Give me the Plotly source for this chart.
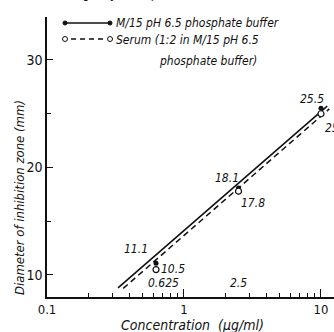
import math
import plotly.graph_objects as go

# ---- data ----
conc = [0.625, 2.5, 10]                 # µg/ml
buffer_mm = [11.1, 18.1, 25.5]          # M/15 pH 6.5 phosphate buffer
serum_mm = [10.5, 17.8, 25.0]           # Serum (1:2 in M/15 pH 6.5 phosphate buffer)
buffer_fit_x = [0.33, 11.1]
buffer_fit_y = [8.8, 25.7]
serum_fit_x = [0.36, 11.5]
serum_fit_y = [8.75, 25.45]
conc_labels = ["0.625", "2.5"]
x_ticks = [0.1, 1, 10]
x_ticktext = ["0.1", "1", "10"]
y_ticks = [10, 20, 30]

FONT = "Liberation Sans Narrow, DejaVu Sans Condensed, Arial Narrow, sans-serif"
BLACK = "#111111"

fig = go.Figure()
fig.add_trace(go.Scatter(x=buffer_fit_x, y=buffer_fit_y, mode="lines",
                         line=dict(color=BLACK, width=1.6), showlegend=False))
fig.add_trace(go.Scatter(x=serum_fit_x, y=serum_fit_y, mode="lines",
                         line=dict(color=BLACK, width=1.5, dash="6px,4px"), showlegend=False))
fig.add_trace(go.Scatter(x=conc, y=buffer_mm, mode="markers",
                         marker=dict(color=BLACK, size=5), showlegend=False))
fig.add_trace(go.Scatter(x=conc, y=serum_mm, mode="markers",
                         marker=dict(color="white", size=6, line=dict(color=BLACK, width=1.2)),
                         showlegend=False))

ann = []
# value labels (offsets in pixels)
buf_off = [(-20, 14), (-12, 10), (-9, 9)]
ser_off = [(3, 1), (0, -12), (2, -14)]
for c, v, (dx, dy) in zip(conc, buffer_mm, buf_off):
    ann.append(dict(x=math.log10(c), y=v, xref="x", yref="y", text=f"<i>{v}</i>",
                    showarrow=False, xshift=dx, yshift=dy,
                    font=dict(family=FONT, size=12, color=BLACK)))
for c, v, (dx, dy) in zip(conc, serum_mm, ser_off):
    ann.append(dict(x=math.log10(c), y=v, xref="x", yref="y", text=f"<i>{v:.1f}</i>",
                    showarrow=False, xshift=dx, yshift=dy, xanchor="left",
                    font=dict(family=FONT, size=12, color=BLACK)))
for c, t, dx in zip(conc[:2], conc_labels, [7, 0]):
    ann.append(dict(x=math.log10(c), y=9.25, xref="x", yref="y", text=f"<i>{t}</i>",
                    showarrow=False, xshift=dx,
                    font=dict(family=FONT, size=12, color=BLACK)))

# paper-coordinate helpers (plot area: x 47..334, y 17..297 px)
def px(p):
    return (p - 47) / 287.0
def py(p):
    return (297 - p) / 280.0

LEG = 12
# legend text
ann.append(dict(x=px(114), y=py(23), xref="paper", yref="paper", xanchor="left", yanchor="middle",
                text="<i>M/15 pH 6.5 phosphate buffer</i>", showarrow=False,
                font=dict(family=FONT, size=LEG, color=BLACK)))
ann.append(dict(x=px(114), y=py(40), xref="paper", yref="paper", xanchor="left", yanchor="middle",
                text="<i>Serum (1:2 in M/15 pH 6.5</i>", showarrow=False,
                font=dict(family=FONT, size=LEG, color=BLACK)))
ann.append(dict(x=px(157), y=py(61), xref="paper", yref="paper", xanchor="left", yanchor="middle",
                text="<i>phosphate buffer)</i>", showarrow=False,
                font=dict(family=FONT, size=LEG, color=BLACK)))
# cut-off heading at top
ann.append(dict(x=px(150), y=py(3), xref="paper", yref="paper", xanchor="center", yanchor="bottom",
                text="<i>(agar cylinder plate method)</i>", showarrow=False,
                font=dict(family=FONT, size=LEG, color=BLACK)))
# axis titles
ann.append(dict(x=px(192), y=py(325), xref="paper", yref="paper", xanchor="center", yanchor="middle",
                text="<i>Concentration  (µg/ml)</i>", showarrow=False,
                font=dict(family=FONT, size=14, color=BLACK)))
ann.append(dict(x=px(20), y=py(198), xref="paper", yref="paper", xanchor="center", yanchor="middle",
                text="<i>Diameter of inhibition zone (mm)</i>", showarrow=False, textangle=-90,
                font=dict(family=FONT, size=13, color=BLACK)))

shapes = []
# legend line 1: solid with filled dots
shapes.append(dict(type="line", xref="paper", yref="paper", x0=px(65), x1=px(110), y0=py(23), y1=py(23),
                   line=dict(color=BLACK, width=1.6)))
for xx in (65, 110):
    shapes.append(dict(type="circle", xref="paper", yref="paper", x0=px(xx - 2), x1=px(xx + 2),
                       y0=py(23 + 2), y1=py(23 - 2), fillcolor=BLACK, line=dict(color=BLACK, width=1)))
# legend line 2: dashed with open circles
shapes.append(dict(type="line", xref="paper", yref="paper", x0=px(71), x1=px(105), y0=py(39), y1=py(39),
                   line=dict(color=BLACK, width=1.5, dash="5px,4px")))
for xx in (65, 110):
    shapes.append(dict(type="circle", xref="paper", yref="paper", x0=px(xx - 2.5), x1=px(xx + 2.5),
                       y0=py(39 + 2.5), y1=py(39 - 2.5), fillcolor="white", line=dict(color=BLACK, width=1)))

fig.update_layout(
    width=334, height=332,
    margin=dict(l=47, r=0, t=17, b=35),
    paper_bgcolor="white", plot_bgcolor="white",
    showlegend=False,
    annotations=ann, shapes=shapes,
    xaxis=dict(type="log", range=[-1, 1.095], showgrid=False, zeroline=False,
               showline=True, linecolor=BLACK, linewidth=1.5,
               tickmode="array", tickvals=x_ticks, ticktext=x_ticktext,
               ticks="inside", ticklen=8, tickwidth=1, tickcolor=BLACK,
               minor=dict(ticks="inside", ticklen=4, tickwidth=1, tickcolor=BLACK,
                          tickmode="array",
                          tickvals=[0.2, 0.3, 0.4, 0.5, 0.6, 0.7, 0.8, 0.9,
                                    2, 3, 4, 5, 6, 7, 8, 9], showgrid=False),
               tickfont=dict(family=FONT, size=13, color=BLACK)),
    yaxis=dict(range=[7.95, 34.0], showgrid=False, zeroline=False,
               showline=True, linecolor=BLACK, linewidth=1.5,
               tickmode="array", tickvals=y_ticks,
               ticks="inside", ticklen=6, tickwidth=1, tickcolor=BLACK,
               minor=dict(ticks="inside", ticklen=4, tickwidth=1, tickcolor=BLACK,
                          tickmode="array", tickvals=[15, 25], showgrid=False),
               tickfont=dict(family=FONT, size=14, color=BLACK)),
)

fig.write_html("out.html")
